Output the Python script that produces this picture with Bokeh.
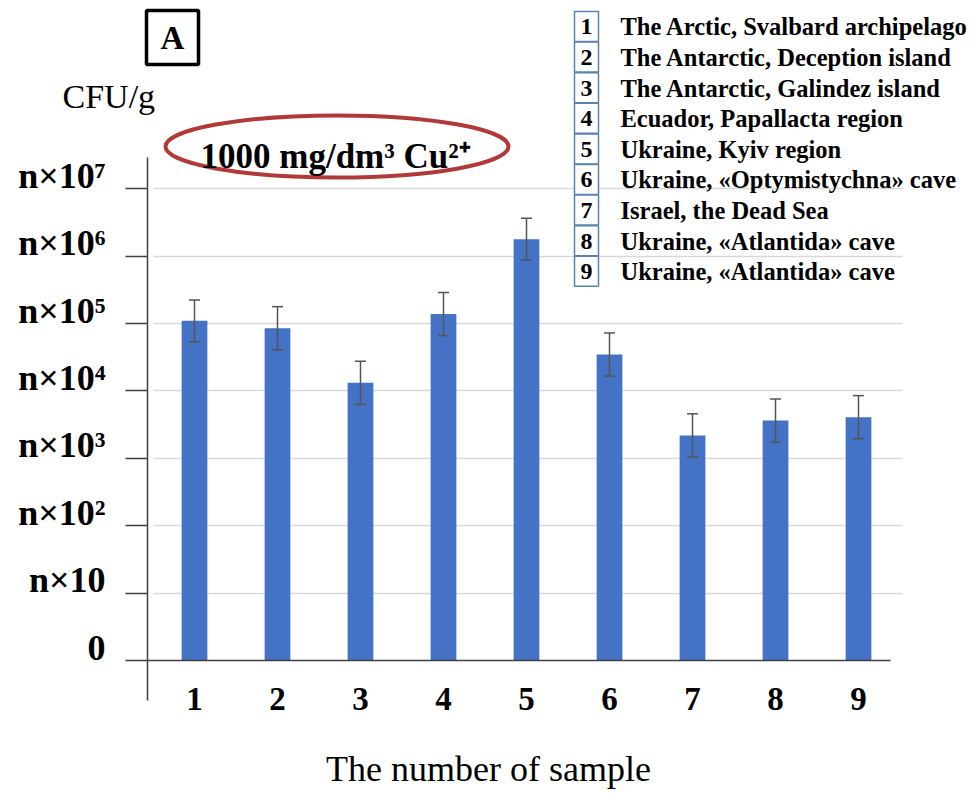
from bokeh.plotting import figure
from bokeh.models import (LinearAxis, FixedTicker, Range1d, Grid, Label, BoxAnnotation,
                          Whisker, TeeHead, ColumnDataSource)
from bokeh.core.properties import value
from bokeh.embed import file_html
from bokeh.resources import INLINE

# ---------------- data ----------------
samples = [1, 2, 3, 4, 5, 6, 7, 8, 9]
sample_labels = ["1", "2", "3", "4", "5", "6", "7", "8", "9"]
# bar heights in "orders of magnitude" (0 -> 0, 1 -> n×10, ... 7 -> n×10^7)
cfu_order = [5.04, 4.93, 4.12, 5.14, 6.25, 4.54, 3.34, 3.56, 3.61]
cfu_error = [0.31, 0.32, 0.32, 0.32, 0.31, 0.32, 0.32, 0.32, 0.32]
y_ticks = [0, 1, 2, 3, 4, 5, 6, 7]
y_tick_labels = ["0", "n×10", "n×10²", "n×10³", "n×10⁴", "n×10⁵", "n×10⁶", "n×10⁷"]
locations = [
    "The Arctic, Svalbard archipelago",
    "The Antarctic, Deception island",
    "The Antarctic, Galindez island",
    "Ecuador, Papallacta region",
    "Ukraine, Kyiv region",
    "Ukraine, «Optymistychna» cave",
    "Israel, the Dead Sea",
    "Ukraine, «Atlantida» cave",
    "Ukraine, «Atlantida» cave",
]
concentration_text = "1000 mg/dm³ Cu²⁺"

# ---------------- layout (pixel geometry of the page) ----------------
W, H = 975, 790
PX_X = 83.0      # px per category
X1_IMG = 194.0   # page x of category 1
PX_Y = 67.4      # px per order of magnitude
Y0_IMG = 660.0   # page y of value 0
BASE_FIX = 0.32  # em correction for the text baseline placement

x_start = 1 - X1_IMG / PX_X
x_end = x_start + W / PX_X
y_end = Y0_IMG / PX_Y
y_start = y_end - H / PX_Y


def dx(ix):
    return x_start + ix / PX_X


def dy(iy):
    return y_end - iy / PX_Y


def base(iy, size):
    return dy(iy - BASE_FIX * size)


SERIF = "Liberation Serif"
AXIS_COLOR = "#404040"

p = figure(width=W, height=H, x_range=Range1d(x_start, x_end), y_range=Range1d(y_start, y_end),
           x_axis_type=None, y_axis_type=None, toolbar_location=None, output_backend="svg",
           min_border=0, title=None, outline_line_color=None)
p.background_fill_color = "white"
p.border_fill_color = "white"

# ---------------- grid ----------------
grid_kw = dict(dimension=1, ticker=FixedTicker(ticks=y_ticks[1:]),
               grid_line_color="#d9d9d9", grid_line_width=1.5)
if "cross_bounds" in Grid.properties():
    p.add_layout(Grid(cross_bounds=(dx(153), dx(902)), **grid_kw))
else:
    p.segment(x0=dx(153), x1=dx(902), y0=y_ticks[1:], y1=y_ticks[1:],
              line_color="#d9d9d9", line_width=1.5)

# ---------------- bars + error bars ----------------
src = ColumnDataSource(dict(
    sample=samples,
    value=cfu_order,
    upper=[v + e for v, e in zip(cfu_order, cfu_error)],
    lower=[v - e for v, e in zip(cfu_order, cfu_error)],
))
p.vbar(x="sample", top="value", bottom=0, width=0.31, source=src,
       fill_color="#4472C4", line_color=None)
p.add_layout(Whisker(source=src, base="sample", upper="upper", lower="lower",
                     line_color="#555555", line_width=1.5, level="annotation",
                     upper_head=TeeHead(size=11, line_color="#555555", line_width=1.5),
                     lower_head=TeeHead(size=11, line_color="#555555", line_width=1.5)))

# ---------------- axes ----------------
y_axis = LinearAxis(fixed_location=dx(147), bounds=(dy(700), dy(157)),
                    ticker=FixedTicker(ticks=y_ticks),
                    major_label_overrides={t: "" for t in y_ticks},
                    major_tick_out=22, major_tick_in=0,
                    axis_line_color=AXIS_COLOR, axis_line_width=1.5,
                    major_tick_line_color=AXIS_COLOR, major_tick_line_width=1.5)
p.add_layout(y_axis, "left")

shift = 13 / PX_Y
p.extra_y_ranges = {"lbl": Range1d(y_start - shift, y_end - shift)}
y_lbl_axis = LinearAxis(y_range_name="lbl", fixed_location=dx(147),
                        ticker=FixedTicker(ticks=y_ticks),
                        major_label_overrides=dict(zip(y_ticks, y_tick_labels)),
                        axis_line_color=None, major_tick_line_color=None,
                        major_tick_out=0, major_tick_in=0, major_label_standoff=42,
                        major_label_text_font=SERIF, major_label_text_font_style="bold",
                        major_label_text_font_size="36px", major_label_text_color="black")
p.add_layout(y_lbl_axis, "left")

x_axis = LinearAxis(fixed_location=0, bounds=(dx(147), dx(890)),
                    ticker=FixedTicker(ticks=samples),
                    major_label_overrides=dict(zip(samples, sample_labels)),
                    major_tick_out=0, major_tick_in=0,
                    axis_line_color=AXIS_COLOR, axis_line_width=1.5,
                    major_label_standoff=27,
                    major_label_text_font=SERIF, major_label_text_font_style="bold",
                    major_label_text_font_size="33px", major_label_text_color="black")
p.add_layout(x_axis, "below")

p.add_layout(Label(x=dx(488), y=base(780, 36), text="The number of sample", text_font=SERIF,
                   text_font_size="36px", text_align="center", text_baseline="alphabetic",
                   text_color="black"))
p.add_layout(Label(x=dx(62), y=base(107, 34), text="CFU/g", text_font=SERIF,
                   text_font_size="34px", text_align="left", text_baseline="alphabetic",
                   text_color="black"))

# ---------------- panel letter ----------------
p.add_layout(BoxAnnotation(left=dx(146), right=dx(198), top=dy(10), bottom=dy(64),
                           fill_color=None, line_color="black", line_alpha=1.0,
                           line_width=3.5))
p.add_layout(Label(x=dx(172), y=base(48, 33), text="A", text_font=SERIF, text_font_style="bold",
                   text_font_size="33px", text_align="center", text_baseline="alphabetic",
                   text_color="black"))

# ---------------- concentration ellipse ----------------
p.ellipse(x=[dx(336.5)], y=[dy(146)], width=343 / PX_X, height=62 / PX_Y,
          fill_color=None, line_color="#b03a3a", line_width=4)
p.add_layout(Label(x=dx(200), y=base(167, 35), text=concentration_text, text_font=SERIF,
                   text_font_style="bold", text_font_size="35px", text_align="left",
                   text_baseline="alphabetic", text_color="black"))

# ---------------- sample legend ----------------
row_centers = [26 + 30.6 * i for i in range(len(samples))]
leg_src = ColumnDataSource(dict(
    x_box=[dx(586)] * len(samples),
    y_box=[dy(c) for c in row_centers],
    x_txt=[dx(620)] * len(samples),
    y_txt=[base(c + 8, 24) for c in row_centers],
    num=sample_labels,
    loc=locations,
))
p.rect(x="x_box", y="y_box", width=24 / PX_X, height=30 / PX_Y, source=leg_src,
       fill_color="white", line_color="#5a82ad", line_width=1.5)
p.text(x="x_box", y="y_txt", text="num", source=leg_src, text_font=value(SERIF),
       text_font_style="bold", text_font_size="24px", text_align="center",
       text_baseline="alphabetic", text_color="black")
p.text(x="x_txt", y="y_txt", text="loc", source=leg_src, text_font=value(SERIF),
       text_font_style="bold", text_font_size="24.5px", text_align="left",
       text_baseline="alphabetic", text_color="black")

open("out.html", "w").write(file_html(p, INLINE))
